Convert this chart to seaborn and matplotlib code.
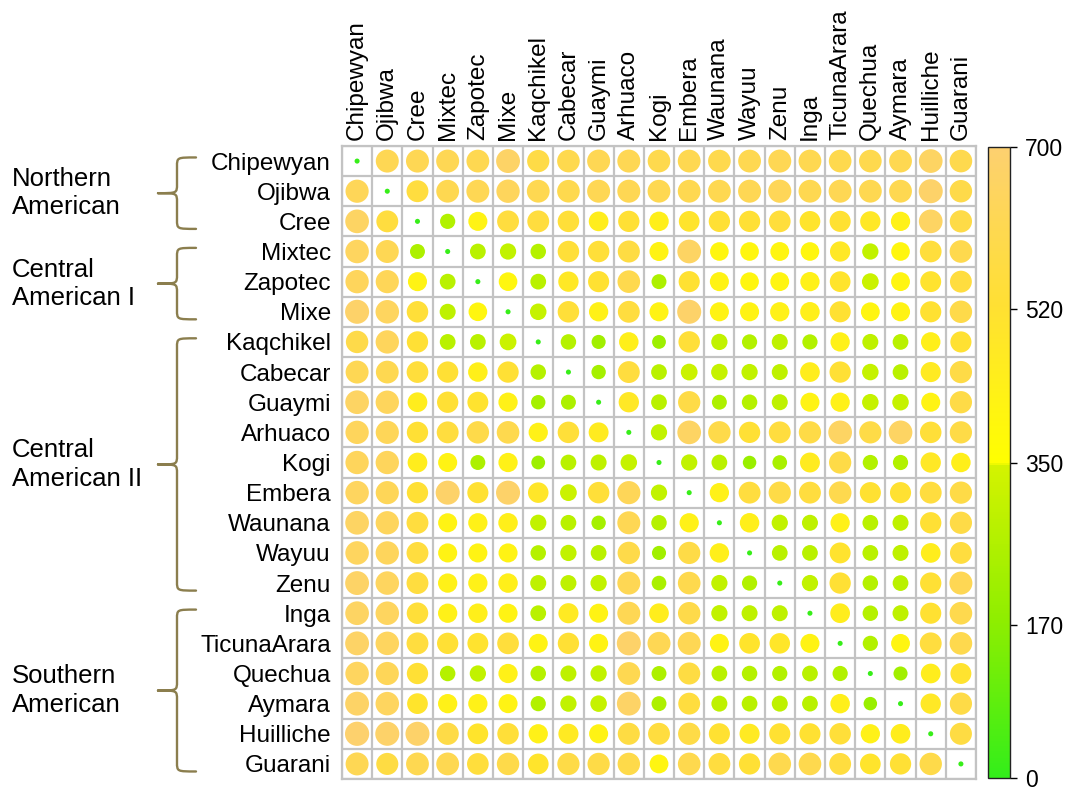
import numpy as np
import pandas as pd
import matplotlib
matplotlib.use("Agg")
import matplotlib.pyplot as plt
import seaborn as sns
from matplotlib.colors import LinearSegmentedColormap, Normalize
from matplotlib.cm import ScalarMappable
from matplotlib.path import Path
from matplotlib.patches import PathPatch

# Populations (same order for rows and columns)
populations = ["Chipewyan", "Ojibwa", "Cree", "Mixtec", "Zapotec", "Mixe",
               "Kaqchikel", "Cabecar", "Guaymi", "Arhuaco", "Kogi", "Embera",
               "Waunana", "Wayuu", "Zenu", "Inga", "TicunaArara", "Quechua",
               "Aymara", "Huilliche", "Guarani"]

# Pairwise distance values, one list per row population
row_chipewyan   = [10, 620, 620, 620, 610, 670, 580, 600, 620, 620, 600, 610, 600, 610, 620, 610, 600, 600, 610, 660, 600]
row_ojibwa      = [630, 10, 560, 610, 620, 640, 610, 600, 620, 620, 610, 610, 610, 620, 630, 610, 620, 610, 610, 680, 590]
row_cree        = [660, 560, 10, 260, 420, 560, 560, 540, 450, 530, 440, 500, 530, 530, 550, 500, 520, 480, 430, 660, 580]
row_mixtec      = [650, 620, 250, 10, 280, 300, 270, 540, 540, 570, 420, 660, 400, 400, 410, 400, 480, 300, 400, 550, 600]
row_zapotec     = [640, 630, 420, 280, 10, 400, 280, 480, 520, 600, 250, 520, 420, 400, 410, 430, 500, 320, 410, 510, 560]
row_mixe        = [680, 650, 540, 290, 400, 10, 310, 540, 430, 560, 420, 680, 420, 420, 430, 440, 520, 410, 420, 520, 590]
row_kaqchikel   = [590, 640, 530, 280, 280, 320, 10, 270, 220, 440, 210, 540, 300, 260, 290, 260, 430, 290, 280, 440, 520]
row_cabecar     = [620, 610, 550, 530, 440, 530, 270, 10, 230, 560, 280, 320, 310, 300, 290, 450, 530, 310, 280, 470, 580]
row_guaymi      = [660, 640, 450, 530, 510, 430, 230, 250, 10, 480, 280, 580, 250, 270, 290, 420, 430, 310, 310, 420, 580]
row_arhuaco     = [640, 630, 530, 560, 590, 600, 430, 540, 460, 10, 300, 660, 590, 530, 560, 580, 660, 580, 660, 540, 580]
row_kogi        = [640, 640, 450, 420, 250, 430, 210, 280, 290, 310, 10, 300, 280, 200, 240, 460, 580, 260, 260, 480, 440]
row_embera      = [650, 630, 530, 680, 520, 680, 490, 320, 540, 630, 300, 10, 430, 560, 580, 560, 600, 520, 520, 560, 580]
row_waunana     = [660, 640, 560, 420, 430, 440, 300, 280, 230, 620, 270, 430, 10, 440, 300, 290, 430, 280, 290, 530, 580]
row_wayuu       = [650, 640, 560, 420, 420, 420, 270, 300, 280, 590, 220, 580, 440, 10, 280, 280, 510, 280, 290, 450, 560]
row_zenu        = [670, 650, 560, 430, 430, 440, 290, 290, 300, 620, 240, 600, 300, 260, 10, 300, 530, 270, 280, 530, 620]
row_inga        = [660, 650, 540, 430, 440, 420, 280, 470, 420, 620, 450, 590, 300, 290, 290, 10, 450, 270, 290, 520, 600]
row_ticunaarara = [670, 650, 560, 530, 510, 550, 420, 530, 420, 680, 620, 620, 420, 500, 490, 420, 10, 260, 410, 560, 600]
row_quechua     = [650, 630, 530, 270, 300, 430, 270, 290, 300, 610, 250, 570, 280, 270, 260, 280, 260, 10, 220, 450, 510]
row_aymara      = [670, 650, 500, 430, 430, 420, 260, 300, 310, 670, 250, 560, 290, 280, 290, 280, 440, 200, 10, 480, 580]
row_huilliche   = [690, 680, 680, 580, 500, 540, 430, 470, 420, 570, 560, 580, 520, 470, 520, 520, 540, 430, 450, 10, 570]
row_guarani     = [620, 570, 610, 610, 550, 590, 500, 580, 580, 590, 410, 600, 560, 530, 600, 600, 560, 500, 530, 590, 10]

rows = [row_chipewyan, row_ojibwa, row_cree, row_mixtec, row_zapotec, row_mixe,
        row_kaqchikel, row_cabecar, row_guaymi, row_arhuaco, row_kogi, row_embera,
        row_waunana, row_wayuu, row_zenu, row_inga, row_ticunaarara, row_quechua,
        row_aymara, row_huilliche, row_guarani]

# Regional groups: label, first row, last row
group_labels = ["Northern\nAmerican", "Central\nAmerican I", "Central\nAmerican II", "Southern\nAmerican"]
group_first = [0, 3, 6, 15]
group_last = [2, 5, 14, 20]

cbar_ticks = [0, 170, 350, 520, 700]
vmin, vmax = 0, 700

# Long-form table for seaborn
n = len(populations)
records = []
for i, vals in enumerate(rows):
    for j, v in enumerate(vals):
        records.append({"row": i, "col": j, "value": v})
df = pd.DataFrame(records)

sns.set_theme(style="white")
plt.rcParams["font.family"] = ["Liberation Sans", "DejaVu Sans"]
plt.rcParams["text.color"] = "black"
FS = 17.5

cmap = LinearSegmentedColormap.from_list(
    "green_yellow_orange",
    [(0.0, "#33ee1a"), (0.25, "#8fee00"), (0.495, "#d4f300"),
     (0.5, "#ffff00"), (0.75, "#ffe033"), (1.0, "#fdd070")])
norm = Normalize(vmin=vmin, vmax=vmax)

W, H = 1069, 791
fig = plt.figure(figsize=(W / 100, H / 100), dpi=100)

gx0, gx1, gy0, gy1 = 342, 976, 146, 779
ax = fig.add_axes([gx0 / W, 1 - gy1 / H, (gx1 - gx0) / W, (gy1 - gy0) / H])

sns.scatterplot(data=df, x="col", y="row", hue="value", size="value",
                palette=cmap, hue_norm=norm, sizes=(9, 308), size_norm=(vmin, vmax),
                linewidth=0, legend=False, ax=ax, zorder=3)

ax.set_xlim(-0.5, n - 0.5)
ax.set_ylim(n - 0.5, -0.5)
ax.set_xticks(range(n))
ax.set_yticks(range(n))
ax.set_xticklabels(populations, rotation=90, fontsize=FS)
ax.set_yticklabels(populations, fontsize=FS)
ax.xaxis.tick_top()
ax.xaxis.set_label_position("top")
ax.tick_params(axis="both", length=0, colors="black")
ax.tick_params(axis="x", pad=4)
ax.tick_params(axis="y", pad=8)
ax.set_xlabel("")
ax.set_ylabel("")

# cell grid
ax.set_xticks(np.arange(-0.5, n, 1), minor=True)
ax.set_yticks(np.arange(-0.5, n, 1), minor=True)
ax.tick_params(which="minor", length=0)
ax.grid(which="minor", color="#c3c3c3", linewidth=1.6, zorder=1)
ax.grid(which="major", visible=False)
for s in ax.spines.values():
    s.set_color("#c3c3c3")
    s.set_linewidth(1.6)

# colorbar
cx0, cx1 = 988, 1010
cax = fig.add_axes([cx0 / W, 1 - 778 / H, (cx1 - cx0) / W, (778 - 147) / H])
cb = fig.colorbar(ScalarMappable(norm=norm, cmap=cmap), cax=cax, ticks=cbar_ticks)
cb.outline.set_edgecolor("#222222")
cb.outline.set_linewidth(1.0)
cax.tick_params(length=5, width=1, labelsize=16.5, pad=6, colors="black")

# region braces and labels
bax = fig.add_axes([0, 1 - gy1 / H, gx0 / W, (gy1 - gy0) / H])
bax.set_xlim(0, gx0)
bax.set_ylim(n - 0.5, -0.5)
bax.axis("off")

x_spine, x_hook, x_tip = 177, 196, 158
r = 0.3
brace_color = "#8b7e4e"
for label, a, b in zip(group_labels, group_first, group_last):
    y0, y1 = a - 0.12, b + 0.25
    ym = (y0 + y1) / 2
    verts = [
        (x_hook, y0), (x_spine, y0), (x_spine, y0), (x_spine, y0 + r),
        (x_spine, ym - r),
        (x_spine, ym), (x_spine, ym), (x_tip, ym),
        (x_spine, ym), (x_spine, ym), (x_spine, ym + r),
        (x_spine, y1 - r),
        (x_spine, y1), (x_spine, y1), (x_hook, y1),
    ]
    codes = [Path.MOVETO, Path.CURVE4, Path.CURVE4, Path.CURVE4,
             Path.LINETO,
             Path.CURVE4, Path.CURVE4, Path.CURVE4,
             Path.CURVE4, Path.CURVE4, Path.CURVE4,
             Path.LINETO,
             Path.CURVE4, Path.CURVE4, Path.CURVE4]
    bax.add_patch(PathPatch(Path(verts, codes), fill=False, edgecolor=brace_color,
                            linewidth=1.7, capstyle="round", joinstyle="round"))
    bax.text(12, ym, label, fontsize=18.5, ha="left", va="center", linespacing=1.22)

fig.savefig("out.png", dpi=100, facecolor="white")
